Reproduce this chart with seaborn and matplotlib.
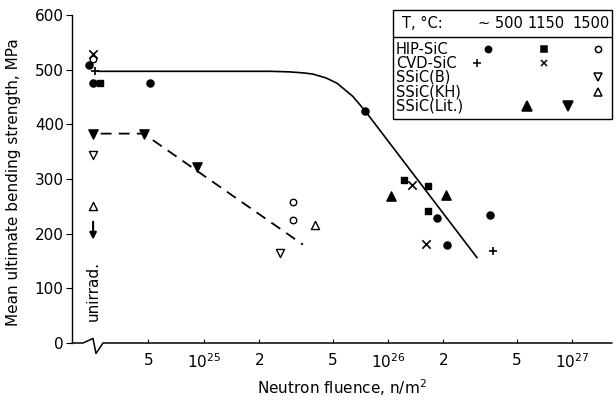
import numpy as np
import pandas as pd
import matplotlib
matplotlib.use("Agg")
import matplotlib.pyplot as plt
import seaborn as sns
from matplotlib.lines import Line2D
from matplotlib.patches import Rectangle
from matplotlib.ticker import FixedLocator, FixedFormatter

sns.set_theme(style="ticks")
plt.rcParams['font.family'] = ['DejaVu Sans']
plt.rcParams['mathtext.fontset'] = 'dejavusans'
for key in ["text.color", "axes.labelcolor", "xtick.color", "ytick.color", "axes.edgecolor"]:
    plt.rcParams[key] = "black"

# ---------------- data (fluence n/m^2, strength MPa) ----------------
hip500_x = [2.37e24, 2.5e24, 5.1e24, 7.5e25, 1.85e26, 2.09e26, 3.58e26]
hip500_y = [509, 475, 476, 425, 229, 180, 235]
hip1150_x = [2.72e24, 1.22e26, 1.66e26, 1.66e26]
hip1150_y = [475, 298, 287, 242]
hip1500_x = [2.5e24, 3.05e25, 3.05e25]
hip1500_y = [520, 258, 225]
cvd500_x = [2.56e24, 3.7e26]
cvd500_y = [498, 169]
cvd1150_x = [2.5e24, 1.35e26, 1.62e26]
cvd1150_y = [529, 289, 182]
ssicb_x = [2.5e24, 2.6e25]
ssicb_y = [344, 164]
ssickh_x = [2.5e24, 4.0e25]
ssickh_y = [251, 216]
lit500_x = [1.04e26, 2.07e26]
lit500_y = [269, 271]
lit1150_x = [2.5e24, 4.7e24, 9.2e24]
lit1150_y = [382, 382, 322]

solid_x = [2.65e24, 2.3e25, 2.9e25, 3.5e25, 3.9e25, 4.6e25, 5.3e25, 6.45e25, 7.5e25, 3.05e26]
solid_y = [497, 497, 496, 494, 492, 485, 475, 451, 425, 156]
dash_x = [2.75e24, 4.7e24, 3.45e25]
dash_y = [383, 383, 180]

unirrad_x = 2.5e24
unirrad_arrow_y = [227, 184]

xtick_major = [1e25, 1e26, 1e27]
xtick_major_labels = ["$10^{25}$", "$10^{26}$", "$10^{27}$"]
xtick_minor = [5e24, 2e25, 5e25, 2e26, 5e26]
xtick_minor_labels = ["5", "2", "5", "2", "5"]
ytick_vals = [0, 100, 200, 300, 400, 500, 600]

legend_rows = ["HIP-SiC", "CVD-SiC", "SSiC(B)", "SSiC(KH)", "SSiC(Lit.)"]
legend_temps = ["\u223c 500", "1150", "1500"]

# ---------------- figure ----------------
W, H = 616, 401
fig = plt.figure(figsize=(W / 100, H / 100), dpi=100)
ax = fig.add_axes([72 / W, 1 - 343 / H, 540 / W, 328 / H])

K = "black"
series = [
    (hip500_x, hip500_y, "o", K, K, 26),
    (hip1150_x, hip1150_y, "s", K, K, 22),
    (hip1500_x, hip1500_y, "o", "white", K, 22),
    (ssicb_x, ssicb_y, "v", "white", K, 34),
    (ssickh_x, ssickh_y, "^", "white", K, 34),
    (lit500_x, lit500_y, "^", K, K, 44),
    (lit1150_x, lit1150_y, "v", K, K, 44),
]
for xs, ys, m, fc, ec, s in series:
    sns.scatterplot(x=xs, y=ys, marker=m, s=s, color=fc, edgecolor=ec,
                    linewidth=1.0, ax=ax, zorder=3, legend=False)
for xs, ys, m in [(cvd500_x, cvd500_y, "+"), (cvd1150_x, cvd1150_y, "x")]:
    sns.scatterplot(x=xs, y=ys, marker=m, s=36, color=K, linewidth=1.2,
                    ax=ax, zorder=3, legend=False)

sns.lineplot(x=solid_x, y=solid_y, sort=False, estimator=None, color=K, lw=1.2, ax=ax)
sns.lineplot(x=dash_x, y=dash_y, sort=False, estimator=None, color=K, lw=1.3,
             ax=ax, linestyle=(0, (6, 4)))

ax.annotate("", xy=(unirrad_x, unirrad_arrow_y[1]), xytext=(unirrad_x, unirrad_arrow_y[0]),
            arrowprops=dict(arrowstyle="-|>", color=K, lw=1.5, mutation_scale=10))
ax.text(unirrad_x, 96, "unirrad.", rotation=90, ha="center", va="center", fontsize=11)

ax.set_xscale("log")
ax.set_xlim(1.92e24, 1.65e27)
ax.set_ylim(0, 600)
ax.xaxis.set_major_locator(FixedLocator(xtick_major))
ax.xaxis.set_major_formatter(FixedFormatter(xtick_major_labels))
ax.xaxis.set_minor_locator(FixedLocator(xtick_minor))
ax.xaxis.set_minor_formatter(FixedFormatter(xtick_minor_labels))
ax.set_yticks(ytick_vals)
ax.tick_params(axis="x", which="both", direction="in", length=3, pad=7, labelsize=11, width=0.8)
ax.tick_params(axis="y", direction="out", length=4, pad=2, labelsize=11, width=0.8)
ax.set_xlabel("Neutron fluence, n/m$^2$", fontsize=11, labelpad=4)
ax.set_ylabel("Mean ultimate bending strength, MPa", fontsize=11)
ax.yaxis.set_label_coords(-0.095, 0.49)

for sp in ["top", "right", "bottom"]:
    ax.spines[sp].set_visible(False)
ax.spines["left"].set_linewidth(1.0)

# broken x axis line
def axf(px):
    return (px - 72) / 540
brk_x = [0, axf(83), axf(93), axf(96), axf(103), 1]
brk_y = [0, 0, 0.014, -0.032, 0, 0]
ax.add_line(Line2D(brk_x, brk_y, transform=ax.transAxes, color=K, lw=1.1, clip_on=False))

# ---------------- legend box ----------------
def fx(px):
    return px / W
def fy(py):
    return 1 - py / H

fig.add_artist(Rectangle((fx(393), fy(119)), fx(612) - fx(393), fy(10) - fy(119),
                         transform=fig.transFigure, fill=False, edgecolor=K, lw=1.0))
fig.add_artist(Line2D([fx(393), fx(612)], [fy(37), fy(37)], transform=fig.transFigure, color=K, lw=1.0))
fig.text(fx(402), fy(24), "T, \u00b0C:", fontsize=10.5, va="center", ha="left")
for lab, cx in zip(legend_temps, [500, 546, 591]):
    fig.text(fx(cx), fy(24), lab, fontsize=10.5, va="center", ha="center")

row_y = [49, 63, 77, 92, 106]
for lab, yy in zip(legend_rows, row_y):
    fig.text(fx(396), fy(yy), lab, fontsize=10.5, va="center", ha="left")

leg_marks = [
    (488, 0, "o", K, 4.5), (544, 0, "s", K, 4.0), (598, 0, "o", "white", 4.5),
    (477, 1, "+", K, 6), (544, 1, "x", K, 5),
    (598, 2, "v", "white", 5.5), (598, 3, "^", "white", 5.5),
    (527, 4, "^", K, 6.5), (568, 4, "v", K, 6.5),
]
for px, r, m, fc, ms in leg_marks:
    fig.add_artist(Line2D([fx(px)], [fy(row_y[r])], transform=fig.transFigure, marker=m,
                          markersize=ms, markerfacecolor=fc, markeredgecolor=K,
                          color=K, markeredgewidth=1.1, linestyle="none"))

fig.savefig("out.png", dpi=100)
